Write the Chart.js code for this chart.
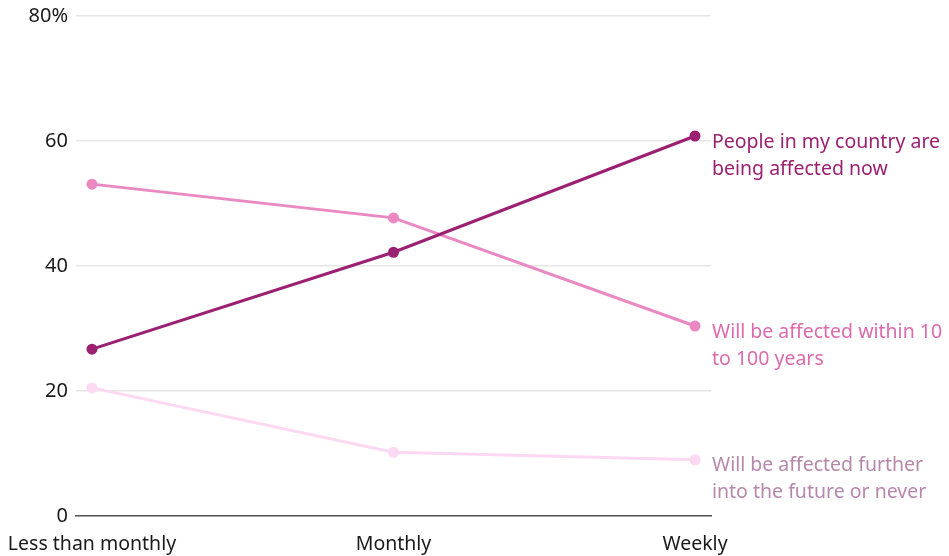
<!DOCTYPE html>
<html>
<head>
<meta charset="utf-8">
<script src="https://cdn.jsdelivr.net/npm/chart.js@4"></script>
<style>
  html, body { margin: 0; padding: 0; background: #fff; }
  #wrap { width: 949px; height: 556px; }
</style>
</head>
<body>
<div id="wrap"><canvas id="lineChart" width="949" height="556"></canvas></div>
<script>
const categories = ["Less than monthly", "Monthly", "Weekly"];
const yTicks = [0, 20, 40, 60, 80];

const affectedNow = [26.7, 42.2, 60.8];
const within10to100 = [53.1, 47.7, 30.4];
const furtherOrNever = [20.5, 10.2, 9.0];

const seriesNames = [
    ["People in my country are", "being affected now"],
    ["Will be affected within 10", "to 100 years"],
    ["Will be affected further", "into the future or never"]
];

const FONT = "'Noto Sans', Roboto, sans-serif";

function toPoints(arr) {
    return arr.map((v, i) => ({ x: i, y: v }));
}

// text labels at the end of each line
const endLabels = {
    id: 'endLabels',
    afterDatasetsDraw(chart) {
        const ctx = chart.ctx;
        ctx.save();
        ctx.font = "19.5px " + FONT;
        ctx.textBaseline = 'middle';
        ctx.textAlign = 'left';
        chart.data.datasets.forEach((ds, i) => {
            const meta = chart.getDatasetMeta(i);
            const pt = meta.data[meta.data.length - 1];
            ctx.fillStyle = ds.labelColor;
            ds.labelLines.forEach((line, j) => {
                ctx.fillText(line, chart.chartArea.right + 1, pt.y + 6 + j * 27);
            });
        });
        ctx.restore();
    }
};

const CHART = document.getElementById("lineChart");

let lineChart = new Chart(CHART, {
    type: 'line',
    data: {
        datasets: [
            {
                label: seriesNames[0].join(" "),
                labelLines: seriesNames[0],
                labelColor: "#9b2071",
                data: toPoints(affectedNow),
                borderColor: "#9b2071",
                backgroundColor: "#9b2071",
                borderWidth: 3,
                pointRadius: 5.5,
                pointBorderWidth: 0,
                order: 1
            },
            {
                label: seriesNames[1].join(" "),
                labelLines: seriesNames[1],
                labelColor: "#dc6aac",
                data: toPoints(within10to100),
                borderColor: "#ea88c2",
                backgroundColor: "#ea88c2",
                borderWidth: 3,
                pointRadius: 5.5,
                pointBorderWidth: 0,
                order: 2
            },
            {
                label: seriesNames[2].join(" "),
                labelLines: seriesNames[2],
                labelColor: "#b688ab",
                data: toPoints(furtherOrNever),
                borderColor: "#fcd8f3",
                backgroundColor: "#fcd8f3",
                borderWidth: 3,
                pointRadius: 5.5,
                pointBorderWidth: 0,
                order: 3
            }
        ]
    },
    options: {
        responsive: false,
        animation: false,
        layout: { padding: { top: 16, right: 238, left: 0, bottom: 0 } },
        plugins: {
            legend: { display: false },
            tooltip: { enabled: false }
        },
        scales: {
            x: {
                type: 'linear',
                min: -0.053,
                max: 2.053,
                afterBuildTicks: (scale) => {
                    scale.ticks = categories.map((c, i) => ({ value: i }));
                },
                afterFit: (scale) => {
                    scale.height = 40;
                    scale.paddingLeft = 0;
                    scale.paddingRight = 0;
                },
                ticks: {
                    callback: (v) => categories[v],
                    color: "#1a1a1a",
                    font: { family: FONT, size: 19.5 },
                    padding: 17,
                    maxRotation: 0,
                    autoSkip: false
                },
                grid: { display: false, drawTicks: false },
                border: { display: true, color: "#555555", width: 1.5 }
            },
            y: {
                min: 0,
                max: 80,
                afterBuildTicks: (scale) => {
                    scale.ticks = yTicks.map(v => ({ value: v }));
                },
                afterFit: (scale) => {
                    scale.width = 76;
                    scale.paddingTop = 0;
                    scale.paddingBottom = 0;
                },
                ticks: {
                    callback: (v) => v === 80 ? "80%" : v,
                    color: "#1a1a1a",
                    font: { family: FONT, size: 20 },
                    padding: 8
                },
                grid: { color: "#e6e6e6", lineWidth: 1.5, drawTicks: false },
                border: { display: false }
            }
        }
    },
    plugins: [endLabels]
});
</script>
</body>
</html>
